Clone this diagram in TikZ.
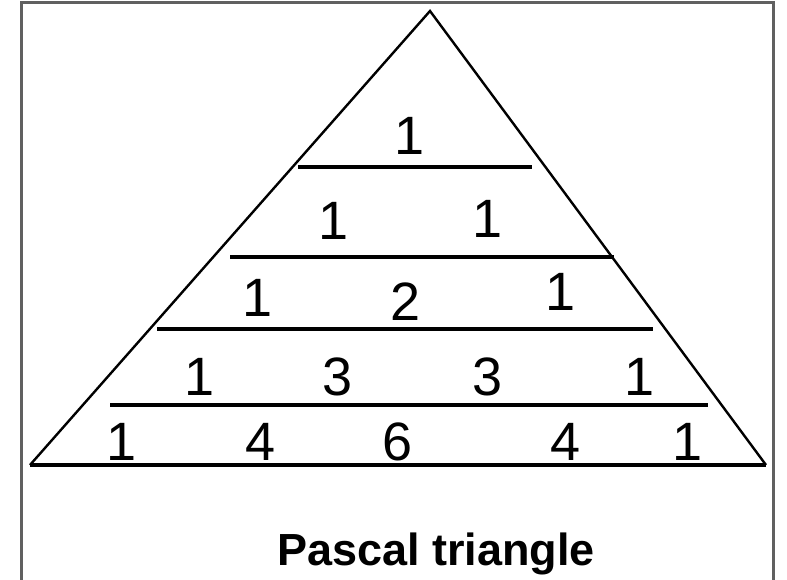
\documentclass[tikz,border=0pt]{standalone}
\usepackage{fontspec}
\setmainfont{Liberation Sans}
\usepackage{xcolor}
\usepackage{tikz}
\usetikzlibrary{positioning}

\definecolor{framegray}{RGB}{96,96,96}

\begin{document}
\begin{tikzpicture}[
    x=1pt, y=-1pt,
    num/.style={anchor=base, inner sep=0pt, font=\fontsize{54}{64}\selectfont},
    ttl/.style={anchor=base, inner sep=0pt, font=\fontsize{45}{54}\selectfont\bfseries},
    side/.style={line width=2.4pt, line join=miter},
    rowline/.style={line width=4pt},
    frm/.style={draw=framegray, line width=3pt}
  ]
  \useasboundingbox (0,0) rectangle (787,580);

  % frame (open at the bottom)
  \draw[frm] (21.5,580) -- (21.5,2.5) -- (773.5,2.5) -- (773.5,580);

  % outline of the triangle
  \coordinate (top)   at (430,11);
  \coordinate (left)  at (30,465);
  \coordinate (right) at (766,465);
  \draw[side] (left) -- (top) -- (right);
  \draw[rowline] (left) -- (right);

  % separators between the rows
  \coordinate (s1a) at (298,167);  \coordinate (s1b) at (532,167);
  \coordinate (s2a) at (230,257);  \coordinate (s2b) at (614,257);
  \coordinate (s3a) at (157,329);  \coordinate (s3b) at (653,329);
  \coordinate (s4a) at (110,405);  \coordinate (s4b) at (708,405);
  \draw[rowline] (s1a) -- (s1b);
  \draw[rowline] (s2a) -- (s2b);
  \draw[rowline] (s3a) -- (s3b);
  \draw[rowline] (s4a) -- (s4b);

  % row 0
  \node[num] (r0a) at (410,155) {1};
  % row 1
  \node[num] (r1a) at (334,240) {1};
  \node[num] (r1b) at (488,237) {1};
  % row 2
  \node[num] (r2a) at (258,316) {1};
  \node[num] (r2b) at (406,320) {2};
  \node[num] (r2c) at (561,310) {1};
  % row 3
  \node[num] (r3a) at (200,395) {1};
  \node[num] (r3b) at (338,395) {3};
  \node[num] (r3c) at (488,395) {3};
  \node[num] (r3d) at (640,395) {1};
  % row 4
  \node[num] (r4a) at (122,460) {1};
  \node[num] (r4b) at (261,460) {4};
  \node[num] (r4c) at (398,460) {6};
  \node[num] (r4d) at (566,460) {4};
  \node[num] (r4e) at (688,460) {1};

  \node[ttl] (title) at (436,565) {Pascal triangle};
\end{tikzpicture}
\end{document}
